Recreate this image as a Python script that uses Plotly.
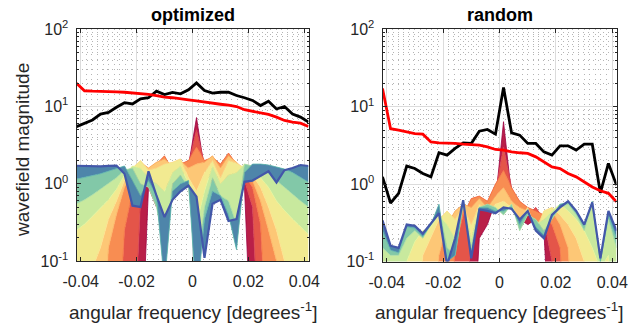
import plotly.graph_objects as go

# ---------------- data ----------------
freq = [-0.04150, -0.03864, -0.03578, -0.03291, -0.03005, -0.02719, -0.02433, -0.02147,
        -0.01860, -0.01574, -0.01288, -0.01002, -0.00716, -0.00429, -0.00143, 0.00143,
        0.00429, 0.00716, 0.01002, 0.01288, 0.01574, 0.01860, 0.02147, 0.02433,
        0.02719, 0.03005, 0.03291, 0.03578, 0.03864, 0.04150]

opt_black = [5.5, 6.0, 6.7, 8.0, 8.4, 9.8, 11.2, 10.8, 12.6, 13.0, 15.8, 14.3, 15.2, 14.6, 16.5,
             20.2, 16.1, 14.9, 15.3, 15.3, 13.9, 13.0, 12.0, 10.3, 11.7, 9.3, 10.0, 8.0, 7.3, 6.3]
opt_red = [20.0, 16.0, 15.8, 15.8, 15.7, 15.5, 15.3, 15.0, 14.8, 14.4, 13.8, 13.2, 13.0, 12.7, 12.2,
           11.8, 11.5, 11.1, 10.7, 10.4, 10.0, 9.1, 8.7, 8.3, 7.9, 7.3, 6.6, 6.3, 6.1, 5.5]

rnd_black = [1.24, 0.57, 0.76, 1.71, 1.59, 1.37, 1.24, 2.54, 2.37, 2.89, 3.41, 3.35, 4.83, 5.08, 4.42,
             17.7, 4.59, 4.29, 3.35, 3.35, 2.61, 2.37, 3.12, 3.12, 2.75, 3.28, 3.28, 0.77, 1.85, 0.97]
rnd_red = [17.2, 5.2, 4.97, 4.73, 4.5, 4.42, 3.5, 3.41, 3.41, 3.35, 3.28, 3.25, 3.19, 3.03, 2.8,
           2.75, 2.61, 2.54, 2.49, 2.25, 1.94, 1.67, 1.59, 1.37, 1.24, 1.07, 0.92, 0.82, 0.76, 0.59]

# wavefield spectra at successive iterations (first -> last), "optimized" panel
opt_iter = [
    [0.003, 0.003, 0.003, 0.003, 0.003, 0.003, 0.003, 0.003, 0.003, 0.9, 0.5, 0.9, 0.8, 1.2, 1.7,
     7.2, 1.5, 1.0, 0.8, 1.2, 1.0, 0.9, 0.003, 0.003, 0.003, 0.003, 0.003, 0.003, 0.003, 0.003],
    [0.003, 0.003, 0.003, 0.003, 0.003, 0.003, 0.003, 0.003, 0.6, 1.2, 1.0, 1.5, 0.7, 1.3, 1.8,
     5.0, 1.8, 1.2, 1.4, 1.5, 1.3, 1.1, 0.5, 0.003, 0.003, 0.003, 0.003, 0.003, 0.003, 0.003],
    [0.003, 0.003, 0.003, 0.003, 0.003, 0.003, 0.25, 0.8, 1.3, 1.5, 1.8, 2.3, 1.5, 1.8, 2.0,
     3.0, 2.0, 2.2, 1.8, 2.5, 1.8, 1.3, 0.9, 0.3, 0.003, 0.003, 0.003, 0.003, 0.003, 0.003],
    [0.003, 0.003, 0.003, 0.003, 0.15, 0.4, 0.9, 1.4, 1.9, 1.6, 1.9, 2.1, 1.7, 2.0, 1.6,
     1.8, 1.9, 2.3, 1.6, 2.3, 1.9, 1.5, 1.1, 0.6, 0.25, 0.1, 0.003, 0.003, 0.003, 0.003],
    [0.003, 0.05, 0.08, 0.15, 0.35, 0.6, 1.1, 1.6, 2.0, 1.5, 1.6, 1.8, 1.9, 2.1, 1.2,
     0.8, 1.4, 2.0, 1.2, 2.0, 1.85, 1.6, 1.3, 0.9, 0.5, 0.25, 0.1, 0.05, 0.02, 0.003],
    [0.25, 0.3, 0.38, 0.48, 0.62, 0.85, 1.3, 1.7, 1.6, 1.2, 1.0, 0.8, 1.4, 1.7, 1.0,
     0.3, 0.8, 1.7, 1.0, 1.3, 1.4, 1.8, 1.5, 1.2, 0.9, 0.6, 0.45, 0.35, 0.28, 0.22],
    [0.55, 0.62, 0.72, 0.85, 1.0, 1.2, 1.5, 1.6, 1.0, 0.9, 0.5, 0.15, 1.0, 1.3, 0.9,
     0.08, 0.5, 1.2, 0.7, 0.6, 0.3, 1.8, 1.7, 1.55, 1.35, 1.1, 0.9, 0.75, 0.6, 0.5],
    [1.15, 1.2, 1.28, 1.35, 1.45, 1.55, 1.7, 1.1, 0.7, 1.1, 0.7, 0.05, 0.8, 1.0, 1.1,
     0.03, 0.35, 0.8, 0.7, 0.4, 0.14, 1.4, 1.8, 1.8, 1.75, 1.65, 1.55, 1.4, 1.2, 1.05],
    [1.71, 1.70, 1.67, 1.68, 1.70, 1.72, 1.35, 0.52, 0.50, 1.45, 0.70, 0.37, 0.62, 0.80, 0.95,
     0.68, 0.11, 0.55, 0.62, 0.33, 0.35, 1.06, 1.10, 1.25, 1.45, 1.04, 1.50, 1.60, 1.75, 1.70],
]

# wavefield spectra at successive iterations (first -> last), "random" panel
rnd_iter = [
    [0.003, 0.003, 0.003, 0.003, 0.003, 0.003, 0.003, 0.003, 0.003, 0.003, 0.003, 0.003, 0.2, 0.3, 0.6,
     6.4, 0.7, 0.35, 0.3, 0.35, 0.25, 0.003, 0.003, 0.003, 0.003, 0.003, 0.003, 0.003, 0.003, 0.003],
    [0.003, 0.003, 0.003, 0.003, 0.003, 0.003, 0.003, 0.003, 0.003, 0.003, 0.003, 0.25, 0.5, 0.55, 0.8,
     3.0, 0.9, 0.45, 0.4, 0.5, 0.35, 0.1, 0.003, 0.003, 0.003, 0.003, 0.003, 0.003, 0.003, 0.003],
    [0.003, 0.003, 0.003, 0.003, 0.003, 0.003, 0.003, 0.003, 0.003, 0.15, 0.4, 0.65, 0.7, 0.6, 1.0,
     1.5, 0.9, 0.6, 0.5, 0.45, 0.4, 0.3, 0.15, 0.003, 0.003, 0.003, 0.003, 0.003, 0.003, 0.003],
    [0.003, 0.003, 0.003, 0.003, 0.003, 0.003, 0.003, 0.12, 0.3, 0.45, 0.55, 0.5, 0.65, 0.5, 0.7,
     0.9, 0.6, 0.5, 0.45, 0.3, 0.4, 0.45, 0.3, 0.15, 0.003, 0.003, 0.003, 0.003, 0.003, 0.003],
    [0.003, 0.003, 0.003, 0.003, 0.003, 0.12, 0.2, 0.35, 0.45, 0.35, 0.5, 0.3, 0.55, 0.45, 0.55,
     0.6, 0.5, 0.35, 0.5, 0.25, 0.45, 0.5, 0.4, 0.3, 0.2, 0.1, 0.003, 0.003, 0.003, 0.003],
    [0.003, 0.003, 0.003, 0.1, 0.18, 0.25, 0.28, 0.4, 0.3, 0.2, 0.6, 0.2, 0.5, 0.5, 0.45,
     0.45, 0.55, 0.3, 0.45, 0.3, 0.35, 0.45, 0.55, 0.45, 0.35, 0.25, 0.15, 0.08, 0.12, 0.003],
    [0.15, 0.12, 0.12, 0.2, 0.25, 0.2, 0.3, 0.5, 0.15, 0.12, 0.55, 0.15, 0.5, 0.55, 0.5,
     0.4, 0.55, 0.25, 0.4, 0.35, 0.25, 0.35, 0.5, 0.55, 0.4, 0.25, 0.55, 0.1, 0.35, 0.15],
    [0.25, 0.14, 0.13, 0.28, 0.27, 0.21, 0.3, 0.55, 0.1, 0.12, 0.6, 0.12, 0.5, 0.5, 0.45,
     0.45, 0.5, 0.3, 0.45, 0.28, 0.22, 0.38, 0.55, 0.58, 0.45, 0.3, 0.6, 0.1, 0.4, 0.2],
    [0.34, 0.16, 0.15, 0.30, 0.29, 0.23, 0.31, 0.42, 0.09, 0.2, 0.62, 0.11, 0.47, 0.45, 0.42,
     0.50, 0.48, 0.35, 0.45, 0.25, 0.2, 0.4, 0.5, 0.6, 0.45, 0.3, 0.58, 0.11, 0.45, 0.25],
]

iter_colors = ["#9E0142", "#D53E4F", "#F46D43", "#FDAE61", "#FEE08B",
               "#E6F598", "#ABDDA4", "#5AB4AC", "#4357A9"]

y_ticks = [0.1, 1, 10, 100]
y_ticktext = ["10<sup>-1</sup>", "10<sup>0</sup>", "10<sup>1</sup>", "10<sup>2</sup>"]
x_ticks = [-0.04, -0.02, 0, 0.02, 0.04]
x_ticktext = ["-0.04", "-0.02", "0", "0.02", "0.04"]


def mix(c1, c2):
    a = [int(c1[i:i + 2], 16) for i in (1, 3, 5)]
    b = [int(c2[i:i + 2], 16) for i in (1, 3, 5)]
    return "rgb(%d,%d,%d)" % tuple((p + q) // 2 for p, q in zip(a, b))


fig = go.Figure()

for curves, xa, ya, blk, red in [(opt_iter, "x", "y", opt_black, opt_red),
                                 (rnd_iter, "x2", "y2", rnd_black, rnd_red)]:
    n = len(curves)
    for k, vals in enumerate(curves):
        last = k == n - 1
        fig.add_trace(go.Scatter(
            x=freq, y=vals, xaxis=xa, yaxis=ya, mode="lines",
            line=dict(color=iter_colors[k], width=2.2 if last else 0.8),
            fill="none" if k == 0 else "tonexty",
            fillcolor=mix(iter_colors[k - 1], iter_colors[k]) if k > 0 else None,
            showlegend=False, hoverinfo="skip"))
    fig.add_trace(go.Scatter(x=freq, y=blk, xaxis=xa, yaxis=ya, mode="lines",
                             line=dict(color="black", width=2.8), showlegend=False))
    fig.add_trace(go.Scatter(x=freq, y=red, xaxis=xa, yaxis=ya, mode="lines",
                             line=dict(color="#FF0000", width=2.8), showlegend=False))

axcol = "#262626"
tickfont = dict(family="Liberation Sans, Arial, sans-serif", size=16, color=axcol)
minor_y = [v * m for m in (0.1, 1, 10) for v in range(2, 10)]

xcommon = dict(range=[-0.0415, 0.0415], tickvals=x_ticks, ticktext=x_ticktext,
               automargin=False, ticklabelstandoff=6,
               showline=True, linecolor=axcol, linewidth=1, mirror="allticks",
               ticks="inside", ticklen=4, tickcolor=axcol, tickfont=tickfont,
               showgrid=True, gridcolor="#DCDCDC", gridwidth=1, zeroline=False,
               minor=dict(dtick=0.002, showgrid=True, griddash="1px,4px",
                          gridcolor="#B4B4B4", gridwidth=1, ticks=""))
ycommon = dict(type="log", range=[-1, 2], tickvals=y_ticks, ticktext=y_ticktext,
               automargin=False,
               showline=True, linecolor=axcol, linewidth=1, mirror="allticks",
               ticks="inside", ticklen=4, tickcolor=axcol, tickfont=tickfont,
               ticklabelstandoff=4,
               showgrid=True, gridcolor="#DCDCDC", gridwidth=1, zeroline=False,
               minor=dict(tickvals=minor_y, showgrid=True, griddash="1px,4px",
                          gridcolor="#B4B4B4", gridwidth=1, ticks="inside",
                          ticklen=2, tickcolor=axcol))

W, H = 644, 326
fig.update_layout(
    width=W, height=H, margin=dict(l=0, r=0, t=0, b=0, autoexpand=False),
    paper_bgcolor="white", plot_bgcolor="white", showlegend=False,
    xaxis=dict(domain=[76.5 / W, 308.5 / W], anchor="y", **xcommon),
    yaxis=dict(domain=[(H - 261) / H, (H - 29.3) / H], anchor="x", **ycommon),
    xaxis2=dict(domain=[382.5 / W, 616.5 / W], anchor="y2", **xcommon),
    yaxis2=dict(domain=[(H - 261.5) / H, (H - 29.3) / H], anchor="x2", **ycommon),
)

lblfont = dict(family="Liberation Sans, Arial, sans-serif", size=19, color=axcol)
ttlfont = dict(family="Liberation Sans, Arial, sans-serif", size=18, color="black")
ann = [
    dict(text="<b>optimized</b>", x=192.5 / W, y=(H - 15) / H, font=ttlfont),
    dict(text="<b>random</b>", x=499.5 / W, y=(H - 15) / H, font=ttlfont),
    dict(text="angular frequency [degrees<sup>-1</sup>]", x=193 / W, y=(H - 311) / H, font=lblfont),
    dict(text="angular frequency [degrees<sup>-1</sup>]", x=499 / W, y=(H - 311) / H, font=lblfont),
    dict(text="wavefield magnitude", x=22 / W, y=(H - 150) / H, font=lblfont, textangle=-90),
]
for a in ann:
    fig.add_annotation(xref="paper", yref="paper", showarrow=False,
                       xanchor="center", yanchor="middle", **a)

fig.write_html("out.html")
